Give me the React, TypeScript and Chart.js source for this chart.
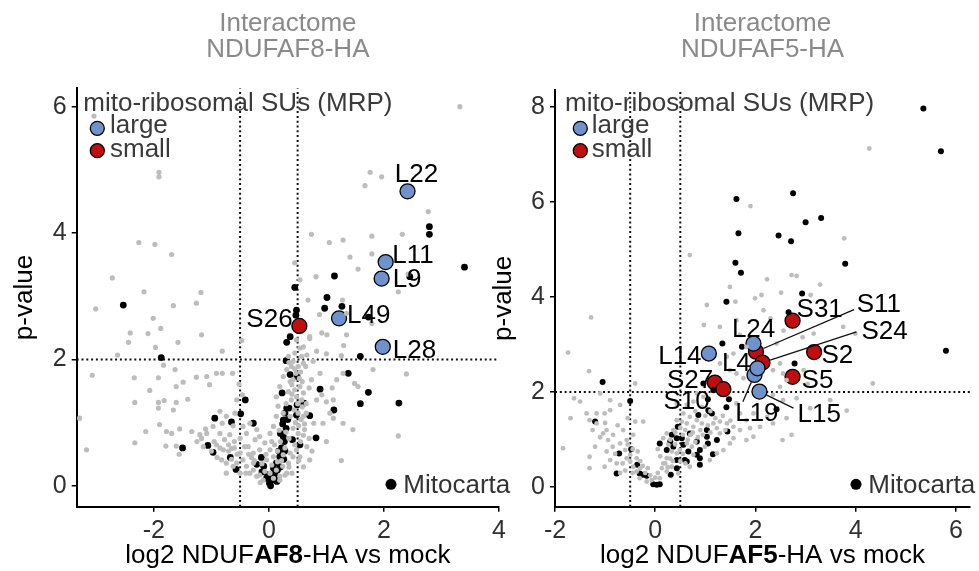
import React, { useEffect, useRef } from "react";
import { Chart, registerables } from "chart.js";

Chart.register(...registerables);

type Pt = [number, number];
const FONT = '"Liberation Sans", Arial, Helvetica, sans-serif';

// ---------------- data ----------------
const leftXTicks = [-2, 0, 2, 4];
const leftYTicks = [0, 2, 4, 6];
const rightXTicks = [-2, 0, 2, 4, 6];
const rightYTicks = [0, 2, 4, 6, 8];

const foldCut = [-0.5, 0.5];
const pCut = 2;

const leftGray: Pt[] = [
  [3.32, 6.0], [-3.04, 5.85], [-1.91, 4.96], [-1.91, 4.89], [1.76, 4.96], [1.96, 4.89], [1.67, 4.75], [2.77, 4.34],
  [0.74, 3.98], [2.32, 3.98], [1.79, 3.95], [1.05, 3.85], [1.29, 3.89], [-2.26, 3.85], [-1.98, 3.82], [-1.69, 3.66],
  [1.41, 3.62], [1.79, 3.67], [1.55, 3.43], [2.42, 3.35], [2.25, 3.07], [0.45, 3.53], [0.54, 3.26], [0.82, 3.31],
  [-2.72, 3.29], [-2.17, 3.07], [-1.18, 3.06], [-1.26, 2.89], [-3.01, 2.8], [-1.66, 2.85], [-2.01, 2.65], [-1.88, 2.49],
  [-2.41, 2.42], [-2.1, 2.41], [-2.44, 2.27], [-1.58, 2.27], [-1.97, 2.19], [-1.17, 2.39], [-2.63, 2.07], [-0.81, 2.13],
  [-0.47, 2.3], [0.68, 2.94], [0.88, 2.71], [1.28, 2.94], [1.35, 2.73], [1.79, 2.57], [0.92, 2.42], [1.01, 2.39],
  [1.35, 2.39], [0.71, 2.33], [1.3, 2.22], [1.0, 2.09], [1.26, 2.06], [2.39, 1.77], [-3.07, 1.75], [-1.83, 1.91],
  [-1.63, 1.84], [-2.34, 1.71], [-1.92, 1.71], [-1.49, 1.64], [-2.07, 1.51], [-1.61, 1.57], [-1.26, 1.72], [-1.08, 1.73],
  [-0.91, 1.78], [-0.81, 1.78], [-1.03, 1.6], [-2.33, 1.32], [-1.92, 1.32], [-1.82, 1.35], [-1.61, 1.32], [-1.92, 1.23],
  [-1.66, 1.2], [-1.41, 1.37], [-3.29, 1.07], [-2.14, 0.86], [-1.9, 0.97], [-1.78, 0.86], [-1.69, 0.83], [-1.55, 0.9],
  [-1.34, 0.86], [-2.33, 0.68], [-1.79, 0.63], [-1.61, 0.63], [-1.56, 0.5], [-3.17, 0.57], [1.0, 0.7], [1.46, 0.89],
  [1.29, 0.99], [2.25, 0.79], [1.26, 0.4], [0.94, 0.99], [1.06, 1.15], [1.12, 1.36], [1.0, 1.33], [0.83, 1.36],
  [0.92, 1.44], [1.1, 1.55], [1.18, 1.68], [1.29, 1.78], [1.49, 1.62], [1.55, 1.57], [1.81, 1.84], [1.12, 1.07],
  [0.78, 0.99], [0.6, 1.47], [0.74, 1.68], [0.89, 1.78], [0.64, 1.89], [0.77, 1.97], [0.54, 2.18], [0.66, 2.07],
  [0.83, 2.13], [0.45, 2.1], [0.6, 1.94], [-0.46, 1.44], [-0.52, 1.61], [-0.63, 1.78], [-0.56, 1.36], [-0.59, 1.15],
  [-0.74, 1.1], [-0.85, 1.18], [-0.81, 0.99], [-0.97, 0.94], [-0.85, 0.83], [-0.77, 0.73], [-0.68, 0.81], [-1.08, 0.83],
  [-1.17, 0.75], [-1.14, 0.62], [-1.2, 0.81], [-0.91, 0.65], [-0.79, 0.57], [-0.65, 0.59], [-0.82, 0.41], [-0.74, 0.36],
  [-0.5, 0.52], [-0.45, 0.41], [-0.56, 0.36], [-0.39, 0.31], [-0.27, 0.25], [-0.33, 0.2], [-0.16, 0.17], [-0.21, 0.15],
  [-0.1, 0.09], [-0.07, 0.23], [0.02, 0.2], [0.13, 0.25], [0.24, 0.31], [0.31, 0.2], [0.19, 0.15], [0.34, 0.36],
  [0.42, 0.46], [0.37, 0.52], [0.48, 0.57], [-0.27, 0.52], [-0.16, 0.57], [-0.36, 0.62], [-0.24, 0.73], [-0.39, 0.83],
  [-0.45, 0.94], [-0.33, 0.99], [-0.21, 0.89], [-0.16, 0.78], [-0.07, 0.68], [0.02, 0.83], [0.08, 0.94], [0.13, 1.1],
  [0.16, 1.26], [0.13, 1.41], [0.19, 1.57], [0.25, 1.73], [0.31, 1.84], [0.39, 1.89], [0.42, 1.68], [0.45, 1.52],
  [0.54, 1.57], [0.48, 1.41], [0.57, 1.36], [0.51, 1.15], [0.6, 1.1], [0.62, 0.89], [0.51, 0.83], [0.42, 0.91],
  [0.37, 1.1], [0.39, 1.36], [0.34, 1.49], [0.37, 1.65], [0.47, 1.78], [0.51, 1.89], [0.42, 1.97], [0.34, 2.05],
  [0.57, 2.05], [0.6, 2.2], [0.48, 2.31], [0.71, 2.36], [0.54, 0.46], [0.66, 0.62], [0.71, 0.41], [0.25, 0.49],
  [0.08, 0.46], [0.02, 0.57], [-0.27, 0.36], [-0.5, 0.2], [-0.62, 0.31], [-0.74, 0.2], [-0.04, 0.41], [0.19, 0.09],
  [0.08, 0.12], [0.28, 0.17], [0.44, 1.2], [0.46, 1.0], [0.52, 0.95], [0.35, 0.75], [0.28, 0.6], [0.55, 0.7],
  [0.58, 1.25], [0.4, 1.6], [0.53, 1.7], [0.3, 1.3], [0.25, 1.15], [0.2, 0.7], [0.15, 0.55], [0.1, 0.65],
  [-0.05, 0.5], [-0.12, 0.35], [-0.3, 0.45], [-0.42, 0.62], [-0.55, 0.5], [-0.6, 0.7], [-0.7, 0.55], [-0.9, 0.45],
  [-1.0, 0.55], [-0.62, 0.95], [-0.65, 0.42], [0.05, 0.33], [0.15, 0.38], [0.22, 0.4], [0.05, 0.7], [0.18, 0.88],
  [0.65, 1.3], [0.7, 1.55], [0.58, 1.65],
  [0.35, 1.95], [0.45, 1.85], [0.55, 1.8], [0.4, 1.45], [0.5, 1.3], [0.56, 1.05], [0.62, 0.98], [0.3, 0.85],
  [0.45, 0.65], [0.6, 0.8], [0.52, 0.4], [0.35, 0.3], [0.4, 0.2], [0.6, 0.3], [0.65, 1.15], [0.7, 0.75],
  [0.75, 0.55], [-0.85, 0.6], [-0.7, 0.65], [-0.6, 0.6], [-0.5, 0.75], [-0.35, 0.5], [-0.25, 0.4], [-0.4, 0.2],
  [-0.15, 0.05], [-0.95, 0.7], [-1.1, 0.9], [-1.25, 0.7],
];

const leftBlack: Pt[] = [
  [-2.53, 2.86], [-1.87, 2.03], [-1.5, 0.6], [-0.94, 1.07], [-1.06, 0.64], [-0.97, 0.53], [-0.67, 0.45], [-0.65, 1.01],
  [-0.57, 0.26], [-0.49, 1.14], [-0.41, 1.36], [-0.27, 0.99], [-0.13, 0.45], [-0.21, 0.34], [-0.09, 0.31], [-0.04, 0.12],
  [0.01, 0.04], [0.05, 0.09], [0.1, 0.2], [0.14, 0.07], [0.08, 0.28], [0.13, 0.36], [0.19, 0.46], [0.22, 0.6],
  [0.27, 0.7], [0.2, 0.83], [0.3, 0.91], [0.25, 1.04], [0.28, 1.15], [0.31, 1.23], [0.35, 1.23], [0.23, 1.47],
  [0.41, 0.73], [0.48, 1.12], [0.49, 1.28], [0.61, 1.31], [0.71, 1.11], [0.54, 0.65], [0.82, 0.76], [0.37, 1.76],
  [0.49, 1.73], [0.3, 1.98], [0.31, 2.27], [0.37, 2.36], [0.45, 3.14], [0.48, 2.78], [0.47, 2.7], [0.89, 1.53],
  [1.13, 1.2], [0.97, 2.81], [1.01, 2.98], [1.14, 3.32], [1.27, 2.84], [1.38, 1.78], [1.59, 2.05], [1.59, 1.3],
  [1.73, 1.48], [2.26, 1.31], [2.79, 4.1], [2.79, 3.98], [3.4, 3.46], [1.73, 2.67], [2.45, 3.31],
  [-0.02, 0.18], [0.03, 0.0], [0.06, 0.15], [0.12, 0.12], [-0.12, 0.22], [0.2, 0.3], [0.26, 0.42], [0.17, 0.55],
  [0.25, 0.78], [0.33, 1.05], [0.24, 0.98], [0.28, 0.55], [0.15, 0.25],
];

const leftMrpNames = ["L22", "L11", "L9", "L49", "L28", "S26"];
const leftMrpX = [2.41, 2.03, 1.96, 1.22, 1.98, 0.53];
const leftMrpY = [4.66, 3.54, 3.28, 2.65, 2.2, 2.53];
const leftMrpUnit = ["large", "large", "large", "large", "large", "small"];

const rightGray: Pt[] = [
  [4.27, 7.12], [1.9, 5.91], [3.77, 5.23], [0.69, 4.88], [2.72, 4.46], [2.82, 4.44], [2.23, 4.37], [3.29, 4.26],
  [1.49, 4.21], [3.1, 4.04], [2.51, 4.09], [2.12, 4.04], [1.99, 3.97], [1.6, 3.9], [2.16, 3.72], [1.03, 3.83],
  [-1.28, 3.57], [0.97, 3.41], [1.29, 3.37], [1.62, 3.51], [2.3, 3.55], [2.56, 3.29], [2.42, 3.02], [2.94, 3.15],
  [3.16, 3.23], [3.75, 3.37], [3.99, 3.23], [4.34, 2.18], [-1.74, 2.83], [-1.32, 2.44], [1.69, 3.2], [1.82, 2.95],
  [1.56, 2.81], [1.43, 2.74], [1.29, 2.6], [1.49, 2.46], [1.62, 2.39], [1.76, 2.29], [2.49, 2.6], [2.35, 2.46],
  [2.55, 2.39], [2.62, 2.25], [2.96, 2.46], [3.04, 2.17], [2.49, 2.11], [2.35, 1.94], [2.55, 1.83], [2.82, 1.87],
  [3.09, 1.66], [3.49, 1.83], [3.82, 1.61], [2.62, 1.45], [2.72, 1.1], [2.54, 0.99], [2.35, 1.34], [2.23, 1.48],
  [2.09, 1.27], [1.96, 1.55], [1.82, 1.41], [1.69, 1.55], [1.62, 1.76], [1.89, 1.24], [1.69, 1.2], [1.56, 1.27],
  [1.43, 1.34], [1.29, 1.38], [1.56, 1.03], [1.82, 0.99], [1.96, 1.06], [1.49, 0.92], [1.29, 1.13], [1.23, 1.24],
  [1.16, 1.34], [0.93, 1.69], [0.96, 1.9], [0.83, 1.97], [0.76, 1.8], [0.63, 1.73], [0.56, 1.55], [0.69, 1.48],
  [0.83, 1.41], [0.93, 1.34], [0.76, 1.27], [0.63, 1.34], [0.53, 1.38], [0.43, 1.41], [0.36, 1.2], [0.23, 1.13],
  [0.16, 1.03], [0.26, 0.89], [0.33, 0.75], [0.23, 0.61], [0.16, 0.5], [0.13, 0.4], [0.23, 0.33], [0.33, 0.43],
  [0.43, 0.71], [0.49, 0.78], [0.63, 0.92], [0.73, 0.85], [0.76, 0.68], [0.69, 0.43], [0.99, 0.85], [1.09, 0.57],
  [1.23, 0.71], [1.36, 0.78], [0.46, 0.29], [0.09, 0.19], [-0.07, 0.15], [-0.17, 0.12], [-0.31, 0.19], [-0.37, 0.33],
  [-0.44, 0.43], [-0.5, 0.54], [-0.57, 0.61], [-0.5, 0.68], [-0.37, 0.61], [-0.6, 0.78], [-0.7, 0.92], [-0.57, 0.99],
  [-0.44, 1.1], [-0.64, 1.2], [-0.84, 1.1], [-0.97, 1.2], [-0.94, 0.99], [-1.04, 1.13], [-1.17, 1.34], [-1.31, 1.41],
  [-1.37, 1.55], [-1.01, 1.55], [-1.17, 1.55], [-0.9, 1.62], [-0.7, 1.73], [-0.9, 1.83], [-1.1, 1.97], [-1.5, 1.8],
  [-1.62, 1.87], [-1.69, 1.45], [-1.84, 0.82], [-1.31, 0.64], [-1.31, 0.4], [-1.2, 0.85], [-0.97, 0.75], [-0.9, 0.57],
  [-0.77, 0.5], [-1.01, 0.43], [-0.4, 2.18], [-0.24, 1.38], [-0.4, 1.38], [0.43, 1.76],
  [-0.2, 0.3], [-0.1, 0.25], [0.0, 0.2], [0.05, 0.3], [0.2, 0.5], [0.3, 0.6], [-0.25, 0.45], [-0.3, 0.55],
  [-0.45, 0.8], [-0.55, 0.9], [-0.35, 0.75], [0.1, 0.65], [0.05, 0.8], [0.3, 1.0], [0.4, 0.9], [0.55, 1.1],
  [0.6, 1.2], [0.5, 0.55], [0.6, 0.5], [0.85, 1.05], [0.9, 1.2], [1.05, 1.3], [1.0, 1.5], [1.1, 1.6],
  [0.8, 1.6], [0.7, 1.1], [-0.15, 0.4], [-0.6, 0.35], [-0.8, 0.7], [-0.7, 0.3],
  [0.4, 1.15], [0.5, 1.25], [0.65, 1.0], [0.75, 1.15], [0.95, 1.1], [1.1, 1.15], [1.2, 1.45], [1.35, 1.5],
  [1.4, 1.2], [1.5, 1.4], [0.8, 0.95], [0.55, 0.7], [0.35, 0.55], [0.25, 0.42], [-0.85, 0.85], [-1.1, 1.05],
  [-0.75, 1.3], [-0.55, 1.45], [-1.0, 1.35], [-1.25, 1.2], [-0.65, 0.5], [-0.45, 0.3], [-0.3, 0.4],
];

const rightBlack: Pt[] = [
  [5.35, 7.96], [5.7, 7.06], [2.75, 6.18], [1.62, 6.06], [3.31, 5.66], [3.0, 5.57], [1.66, 5.34], [2.46, 5.29],
  [2.71, 5.17], [3.79, 4.7], [1.6, 4.72], [1.71, 4.51], [2.93, 4.07], [1.42, 3.9], [2.66, 3.68], [5.8, 2.87],
  [1.34, 3.02], [1.73, 2.95], [2.78, 2.6], [-1.05, 2.21], [-0.5, 1.81], [-1.2, 1.38], [1.16, 2.04], [1.05, 1.85],
  [1.08, 1.59], [1.13, 1.55], [1.47, 1.85], [1.42, 1.68], [1.44, 1.17], [0.45, 1.27], [0.33, 1.1], [0.43, 1.03],
  [0.53, 1.03], [0.69, 1.13], [0.3, 0.96], [0.36, 0.85], [0.56, 0.89], [0.66, 0.75], [0.83, 0.96], [0.89, 0.78],
  [1.03, 1.2], [1.03, 1.06], [1.05, 0.92], [1.23, 0.99], [0.83, 0.68], [0.89, 0.61], [0.89, 0.47], [1.15, 0.69],
  [0.63, 0.54], [0.59, 0.57], [0.43, 0.57], [0.43, 0.4], [0.31, 0.26], [0.09, 0.92], [0.23, 0.78], [-0.48, 0.8],
  [-0.72, 0.71], [-0.36, 0.47], [-0.31, 0.29], [-0.24, 0.26], [-0.17, 0.24], [-0.77, 0.29], [-0.04, 0.06], [0.03, 0.05],
  [0.09, 0.06], [2.42, 1.64], [0.96, 2.18], [0.86, 1.52], [1.06, 1.62],
];

const rightMrpNames = ["S11", "S24", "L24", "L19", "L4", "L14", "S27", "S10", "L15", "S31", "S2", "S5"];
const rightMrpX = [2.01, 2.14, 1.96, 1.98, 2.04, 1.07, 1.19, 1.36, 2.08, 2.74, 3.17, 2.74];
const rightMrpY = [2.85, 2.62, 3.02, 2.36, 2.5, 2.81, 2.2, 2.06, 2.01, 3.5, 2.84, 2.32];
const rightMrpUnit = ["small", "small", "large", "large", "large", "large", "small", "small", "large", "small", "small", "small"];

// ---------------- styles ----------------
const COLORS: Record<string, string> = { large: "#7092cc", small: "#c00d0d" };
const GRAY = "#bdbdbd";

interface LabelStyle { dx: number; dy: number; line?: [number, number] }

const leftLabelStyle: Record<string, LabelStyle> = {
  L22: { dx: -12.7, dy: -9 },
  L11: { dx: 6.7, dy: 1 },
  L9: { dx: 11, dy: 8.3 },
  L49: { dx: 8, dy: 4.7 },
  L28: { dx: 10, dy: 11.7 },
  S26: { dx: -53, dy: 0.7 },
};

const rightLabelStyle: Record<string, LabelStyle> = {
  L24: { dx: -21.6, dy: -6.6 },
  S11: { dx: 100.7, dy: -40, line: [98, -42] },
  S24: { dx: 99, dy: -24, line: [94, -30.6] },
  S2: { dx: 7.4, dy: 11.3 },
  S5: { dx: 9, dy: 11.6 },
  S31: { dx: 4, dy: -4 },
  L14: { dx: -50.7, dy: 10 },
  L4: { dx: -35.6, dy: 2.7 },
  S27: { dx: -48, dy: 5.6 },
  S10: { dx: -60, dy: 20 },
  L19: { dx: -19.3, dy: 45.7, line: [-11.6, 26.7] },
  L15: { dx: 38, dy: 30, line: [34, 16.6] },
};

interface PanelCfg {
  canvasLeft: number; canvasWidth: number;
  xMin: number; xMax: number; yMin: number; yMax: number;
  xTicks: number[]; yTicks: number[];
  gray: Pt[]; black: Pt[];
  names: string[]; mx: number[]; my: number[]; unit: string[];
  labelStyle: Record<string, LabelStyle>;
  title: [string, string];
  axisParts: [string, string, string];
  yAxisWidth: number; padRight: number; padTop: number;
  legendTextX: number; legendCircleX: number; legendItemX: number;
  mitoDotX: number; mitoTextX: number; yTitleX: number;
  grayR: number; blackR: number;
}

const panels: PanelCfg[] = [
  {
    canvasLeft: 0, canvasWidth: 520,
    xMin: -3.34, xMax: 4, yMin: -0.33, yMax: 6.29,
    xTicks: leftXTicks, yTicks: leftYTicks,
    gray: leftGray, black: leftBlack,
    names: leftMrpNames, mx: leftMrpX, my: leftMrpY, unit: leftMrpUnit,
    labelStyle: leftLabelStyle,
    title: ["Interactome", "NDUFAF8-HA"],
    axisParts: ["log2 NDUF", "AF8", "-HA vs mock"],
    yAxisWidth: 76.7, padRight: 21, padTop: 88.3,
    legendTextX: 83.3, legendCircleX: 97.3, legendItemX: 110,
    mitoDotX: 391, mitoTextX: 403.3, yTitleX: 32,
    grayR: 2.6, blackR: 3.4,
  },
  {
    canvasLeft: 490, canvasWidth: 489,
    xMin: -2, xMax: 6.28, yMin: -0.41, yMax: 8.35,
    xTicks: rightXTicks, yTicks: rightYTicks,
    gray: rightGray, black: rightBlack,
    names: rightMrpNames, mx: rightMrpX, my: rightMrpY, unit: rightMrpUnit,
    labelStyle: rightLabelStyle,
    title: ["Interactome", "NDUFAF5-HA"],
    axisParts: ["log2 NDUF", "AF5", "-HA vs mock"],
    yAxisWidth: 65, padRight: 9, padTop: 90,
    legendTextX: 565, legendCircleX: 580.3, legendItemX: 591.7,
    mitoDotX: 856, mitoTextX: 868.3, yTitleX: 511,
    grayR: 2.4, blackR: 3.0,
  },
];

function text(ctx: CanvasRenderingContext2D, s: string, x: number, y: number, color: string, align: CanvasTextAlign = "left", weight = "normal", size = 26) {
  ctx.save();
  ctx.font = `${weight} ${size}px ${FONT}`;
  ctx.fillStyle = color;
  ctx.textAlign = align;
  ctx.textBaseline = "alphabetic";
  ctx.fillText(s, x, y);
  ctx.restore();
}

function makePlugin(p: PanelCfg) {
  const L = p.canvasLeft;
  return {
    id: "deco",
    beforeDatasetsDraw(chart: any) {
      const { ctx, chartArea: a, scales } = chart;
      const xs = scales.x, ys = scales.y;
      ctx.save();
      ctx.beginPath();
      ctx.rect(a.left, a.top, a.right - a.left, a.bottom - a.top);
      ctx.clip();
      ctx.strokeStyle = "#111";
      ctx.lineWidth = 2;
      ctx.setLineDash([2, 2.8]);
      for (const v of foldCut) {
        const px = xs.getPixelForValue(v);
        ctx.beginPath(); ctx.moveTo(px, a.bottom); ctx.lineTo(px, a.top); ctx.stroke();
      }
      const py = ys.getPixelForValue(pCut);
      ctx.beginPath(); ctx.moveTo(a.left, py); ctx.lineTo(a.right, py); ctx.stroke();
      ctx.restore();
    },
    afterDatasetsDraw(chart: any) {
      const { ctx, scales } = chart;
      const xs = scales.x, ys = scales.y;
      p.names.forEach((n, i) => {
        const st = p.labelStyle[n];
        if (!st) return;
        const px = xs.getPixelForValue(p.mx[i]);
        const py = ys.getPixelForValue(p.my[i]);
        if (st.line) {
          const [ex, ey] = st.line;
          const len = Math.hypot(ex, ey);
          const r = 8;
          ctx.save();
          ctx.strokeStyle = "#111";
          ctx.lineWidth = 1.3;
          ctx.beginPath();
          ctx.moveTo(px + (ex / len) * r, py + (ey / len) * r);
          ctx.lineTo(px + ex, py + ey);
          ctx.stroke();
          ctx.restore();
        }
        text(ctx, n, px + st.dx, py + st.dy, "#000");
      });
    },
    afterDraw(chart: any) {
      const { ctx, chartArea: a } = chart;
      const cx = (a.left + a.right) / 2;
      text(ctx, p.title[0], cx, 30.7, "#8a8a8a", "center");
      text(ctx, p.title[1], cx, 57.3, "#8a8a8a", "center");
      text(ctx, "mito-ribosomal SUs (MRP)", p.legendTextX - L, 110.7, "#3a3a3a");
      const items: [string, string, number, number][] = [["large", COLORS.large, 128.3, 133.3], ["small", COLORS.small, 150.7, 157.3]];
      for (const [lab, col, cy, by] of items) {
        ctx.save();
        ctx.beginPath();
        ctx.arc(p.legendCircleX - L, cy, 7, 0, Math.PI * 2);
        ctx.fillStyle = col; ctx.fill();
        ctx.lineWidth = 1.3; ctx.strokeStyle = "#000"; ctx.stroke();
        ctx.restore();
        text(ctx, lab, p.legendItemX - L, by, "#3a3a3a");
      }
      ctx.save();
      ctx.beginPath();
      ctx.arc(p.mitoDotX - L, 484.3, 5.5, 0, Math.PI * 2);
      ctx.fillStyle = "#000"; ctx.fill();
      ctx.restore();
      text(ctx, "Mitocarta", p.mitoTextX - L, 493.3, "#333");
      ctx.save();
      const fN = `normal 26px ${FONT}`, fB = `bold 26px ${FONT}`;
      const parts: [string, string][] = [[p.axisParts[0], fN], [p.axisParts[1], fB], [p.axisParts[2], fN]];
      let total = 0;
      for (const [s, f] of parts) { ctx.font = f; total += ctx.measureText(s).width; }
      let x0 = cx - total / 2;
      ctx.fillStyle = "#000";
      ctx.textBaseline = "alphabetic";
      ctx.textAlign = "left";
      for (const [s, f] of parts) { ctx.font = f; ctx.fillText(s, x0, 562.7); x0 += ctx.measureText(s).width; }
      ctx.restore();
      ctx.save();
      ctx.translate(p.yTitleX - L, (a.top + a.bottom) / 2);
      ctx.rotate(-Math.PI / 2);
      ctx.font = `normal 26px ${FONT}`;
      ctx.fillStyle = "#000";
      ctx.textAlign = "center";
      ctx.textBaseline = "alphabetic";
      ctx.fillText("p-value", 0, 0);
      ctx.restore();
    },
  };
}

function Panel({ cfg }: { cfg: PanelCfg }) {
  const ref = useRef<HTMLCanvasElement | null>(null);
  useEffect(() => {
    if (!ref.current) return;
    const p = cfg;
    const toPts = (arr: Pt[]) => arr.map(([x, y]) => ({ x, y }));
    const mrp = p.names.map((_, i) => ({ x: p.mx[i], y: p.my[i] }));
    const tickFont = { size: 25, family: FONT };
    const chart = new Chart(ref.current, {
      type: "scatter",
      data: {
        datasets: [
          { label: "all", data: toPts(p.gray), pointRadius: p.grayR, pointBackgroundColor: GRAY, pointBorderWidth: 0, borderWidth: 0 },
          { label: "Mitocarta", data: toPts(p.black), pointRadius: p.blackR, pointBackgroundColor: "#000", pointBorderWidth: 0, borderWidth: 0 },
          {
            label: "MRP", data: mrp, pointRadius: 7.5,
            pointBackgroundColor: p.unit.map((u) => COLORS[u]),
            pointBorderColor: "#000", pointBorderWidth: 1.3,
          },
        ],
      },
      options: {
        responsive: false,
        animation: false,
        events: [],
        layout: { padding: { left: 0, right: p.padRight, top: p.padTop, bottom: 0 } },
        plugins: { legend: { display: false }, tooltip: { enabled: false }, title: { display: false } },
        scales: {
          x: {
            type: "linear", min: p.xMin, max: p.xMax,
            afterBuildTicks: (s: any) => { s.ticks = p.xTicks.map((v) => ({ value: v })); },
            afterFit: (s: any) => { s.height = 571 - 506.7; },
            ticks: { font: tickFont, color: "#303030", padding: 4, callback: (v: any) => String(v) },
            grid: { display: true, drawOnChartArea: false, drawTicks: true, tickLength: 5, color: "#000", lineWidth: 1.5 },
            border: { display: true, color: "#000", width: 2 },
          },
          y: {
            type: "linear", min: p.yMin, max: p.yMax,
            afterBuildTicks: (s: any) => { s.ticks = p.yTicks.map((v) => ({ value: v })); },
            afterFit: (s: any) => { s.width = p.yAxisWidth; },
            ticks: { font: tickFont, color: "#303030", padding: 5, callback: (v: any) => String(v) },
            grid: { display: true, drawOnChartArea: false, drawTicks: true, tickLength: 5, color: "#000", lineWidth: 1.5 },
            border: { display: true, color: "#000", width: 2 },
          },
        },
      },
      plugins: [makePlugin(p)],
    } as any);
    return () => chart.destroy();
  }, [cfg]);
  return (
    <canvas
      ref={ref}
      width={cfg.canvasWidth}
      height={571}
      style={{ position: "absolute", left: cfg.canvasLeft, top: 0, width: cfg.canvasWidth, height: 571 }}
    />
  );
}

export default function App() {
  return (
    <div style={{ position: "fixed", left: 0, top: 0, width: 979, height: 571, background: "#fff", overflow: "hidden" }}>
      {panels.map((p, i) => (
        <Panel key={i} cfg={p} />
      ))}
    </div>
  );
}
